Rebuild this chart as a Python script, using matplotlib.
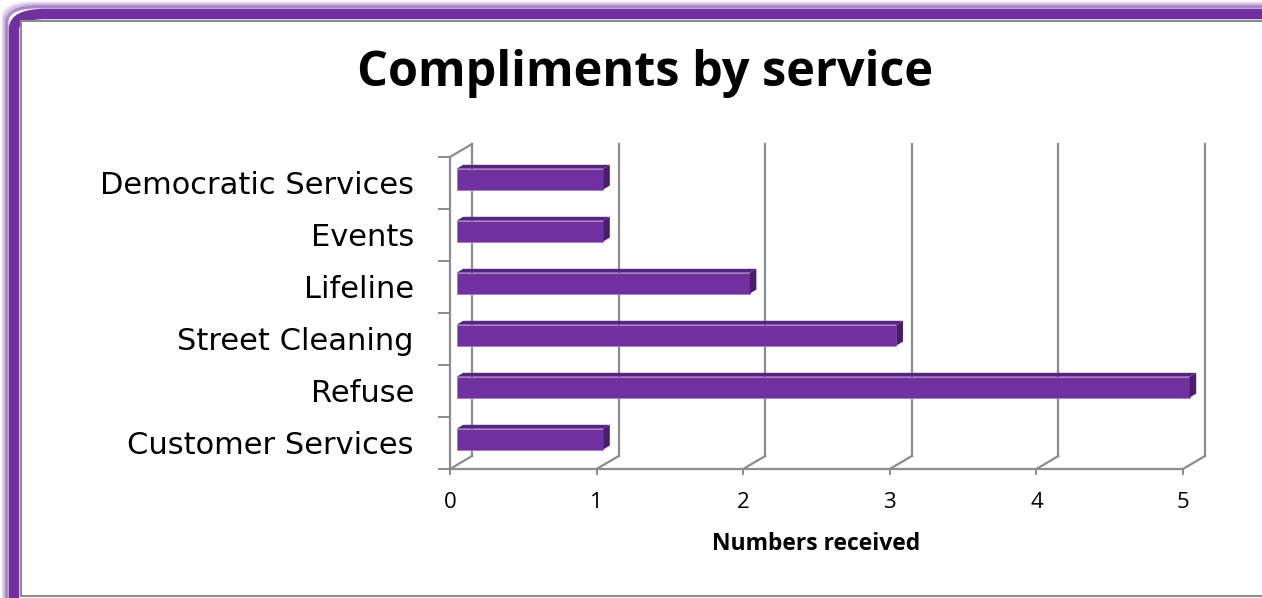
import numpy as np
import matplotlib.pyplot as plt
from matplotlib.patches import Polygon, FancyBboxPatch

# data (bottom to top)
services = ['Customer Services', 'Refuse', 'Street Cleaning', 'Lifeline', 'Events', 'Democratic Services']
compliments = [1, 5, 3, 2, 1, 1]
x_ticks = [0, 1, 2, 3, 4, 5]

W, H = 1262, 598
fig = plt.figure(figsize=(W / 100, H / 100), dpi=100)

# frame: purple glow border + thin grey inner line
def frame(off, **kw):
    fig.patches.append(FancyBboxPatch((off / W, -40 / H), (W + 100) / W, (H - 2 * off + 40) / H + off / H,
                                      boxstyle='round,pad=0,rounding_size=0.025', transform=fig.transFigure,
                                      fill=False, zorder=-5, **kw))

for off, a in zip([3, 5, 7], [0.15, 0.3, 0.55]):
    frame(off, edgecolor='#7030a0', alpha=a, linewidth=2.2)
frame(14, edgecolor='#7030a0', linewidth=7.5)
fig.patches.append(plt.Rectangle((20.5 / W, 2 / H), (W + 100) / W, (H - 22.5) / H, zorder=-4,
                                 transform=fig.transFigure, facecolor='white', edgecolor='#8c8c8c', linewidth=1.5))

ax = fig.add_axes([450 / W, (H - 469) / H, (1183 - 450) / W, (469 - 157) / H])
ax.set_facecolor('none')
ax.set_xlim(0, 5)
ax.set_ylim(-0.5, 5.5)

DX, DY = 0.15, 0.25      # depth of the 3d box in data units
grid_col = '#8c8c8c'

# back wall lines and floor diagonals
for xv in x_ticks:
    ax.plot([xv + DX, xv + DX], [-0.5 + DY, 5.5 + DY], color=grid_col, lw=1.6, clip_on=False, zorder=1)
    ax.plot([xv, xv + DX], [-0.5, -0.5 + DY], color=grid_col, lw=1.6, clip_on=False, zorder=1)
ax.plot([0, DX], [5.5, 5.5 + DY], color=grid_col, lw=1.6, clip_on=False, zorder=1)

# bars (front face + top + side)
y = np.arange(len(services))
d1, dd = 0.3, 0.3
bh = 0.4
bars = ax.barh(y + d1 * DY, compliments, left=d1 * DX, height=bh, color='#7030a0',
               edgecolor='#a47cc8', linewidth=0.6, zorder=3)
for b in bars:
    b.set_clip_on(False)
for yi, v in zip(y, compliments):
    x0 = d1 * DX
    x1 = x0 + v
    top = yi + d1 * DY + bh / 2
    bot = yi + d1 * DY - bh / 2
    ax.add_patch(Polygon([(x0, top), (x1, top), (x1 + dd * DX, top + dd * DY), (x0 + dd * DX, top + dd * DY)],
                         closed=True, facecolor='#58237f', edgecolor='none', zorder=3, clip_on=False))
    ax.add_patch(Polygon([(x1, bot), (x1, top), (x1 + dd * DX, top + dd * DY), (x1 + dd * DX, bot + dd * DY)],
                         closed=True, facecolor='#4a1d6b', edgecolor='none', zorder=3, clip_on=False))

for s in ['top', 'right']:
    ax.spines[s].set_visible(False)
for s in ['left', 'bottom']:
    ax.spines[s].set_color(grid_col)
    ax.spines[s].set_linewidth(1.6)

ax.set_xticks(x_ticks)
ax.set_xticklabels([str(t) for t in x_ticks], fontsize=16, family='Open Sans')
ax.tick_params(axis='x', length=4.5, width=1.4, color=grid_col, pad=12)

ax.set_yticks(y)
ax.set_yticklabels(services, fontsize=22, family='DejaVu Sans')
ax.set_yticks(np.arange(-0.5, 6, 1), minor=True)
ax.tick_params(axis='y', which='major', length=0, pad=26)
ax.tick_params(axis='y', which='minor', length=8.5, width=1.4, color=grid_col)

ax.set_xlabel('Numbers received', fontsize=16.5, fontweight='bold', family='Open Sans', labelpad=14)

fig.text(645 / W, 1 - 73 / H, 'Compliments by service', ha='center', va='center',
         fontsize=35, fontweight='bold', family='Open Sans')

fig.savefig('out.png', dpi=100)
